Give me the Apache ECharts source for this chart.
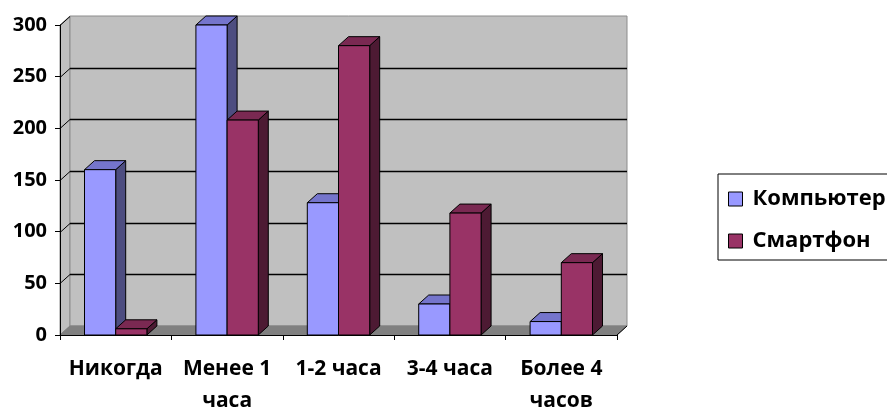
<!DOCTYPE html>
<html>
<head>
<meta charset="utf-8">
<script src="https://cdn.jsdelivr.net/npm/echarts@6/dist/echarts.min.js"></script>
<style>
html,body{margin:0;padding:0;background:#fff;}
#chart{width:887px;height:417px;}
</style>
</head>
<body>
<div id="chart"></div>
<script>
const categories = ['Никогда', 'Менее 1\nчаса', '1-2 часа', '3-4 часа', 'Более 4\nчасов'];
const seriesNames = ['Компьютер', 'Смартфон'];
const computerValues = [160, 300, 128, 30, 13];
const smartphoneValues = [6, 208, 280, 118, 70];
const yTicks = [0, 50, 100, 150, 200, 250, 300];

const DX = 10, DY = -9;
const FONT = '"Open Sans", "Noto Sans", "Liberation Sans", sans-serif';

const chart = echarts.init(document.getElementById('chart'), null, {renderer: 'canvas'});

function backdrop(params, api) {
  const cs = params.coordSys;
  const x = cs.x, y = cs.y, w = cs.width, h = cs.height;
  const children = [];
  children.push({type: 'polygon', shape: {points: [[x, y + h], [x, y], [x + DX, y + DY], [x + DX, y + h + DY]]},
    style: {fill: '#C0C0C0', stroke: '#8C8C8C', lineWidth: 1}});
  children.push({type: 'rect', shape: {x: x + DX, y: y + DY, width: w, height: h},
    style: {fill: '#C0C0C0', stroke: '#8C8C8C', lineWidth: 1}});
  children.push({type: 'polygon', shape: {points: [[x, y + h], [x + w, y + h], [x + w + DX, y + h + DY], [x + DX, y + h + DY]]},
    style: {fill: '#808080', stroke: '#808080', lineWidth: 1}});
  const maxT = yTicks[yTicks.length - 1];
  yTicks.forEach(function (t) {
    const py = Math.round(api.coord([0, t])[1]) + 0.5;
    if (t > 0 && t < maxT) {
      children.push({type: 'line', shape: {x1: x + DX, y1: py + DY, x2: x + w + DX, y2: py + DY},
        style: {stroke: '#000', lineWidth: 1.3}});
    }
    if (t > 0) {
      children.push({type: 'line', shape: {x1: x, y1: py, x2: x + DX, y2: py + DY},
        style: {stroke: '#000', lineWidth: 1}});
    }
  });
  children.push({type: 'line', shape: {x1: x + w, y1: y + h, x2: x + w + DX, y2: y + h + DY},
    style: {stroke: '#000', lineWidth: 1}});
  return {type: 'group', children: children};
}

function makeBar(side, front, topC, sideC) {
  return function (params, api) {
    const idx = api.value(0), val = api.value(1);
    const base = api.coord([idx, 0]);
    const top = api.coord([idx, val]);
    const band = api.size([1, 0])[0];
    const bw = band * 0.28;
    const x0 = side < 0 ? base[0] - bw : base[0];
    const x1 = x0 + bw;
    const yt = top[1], yb = base[1];
    const st = {stroke: '#000', lineWidth: 1, lineJoin: 'round'};
    return {
      type: 'group',
      children: [
        {type: 'polygon', shape: {points: [[x1, yt], [x1 + DX, yt + DY], [x1 + DX, yb + DY], [x1, yb]]},
          style: Object.assign({fill: sideC}, st)},
        {type: 'polygon', shape: {points: [[x0, yt], [x1, yt], [x1 + DX, yt + DY], [x0 + DX, yt + DY]]},
          style: Object.assign({fill: topC}, st)},
        {type: 'rect', shape: {x: x0, y: yt, width: bw, height: yb - yt},
          style: Object.assign({fill: front}, st)}
      ]
    };
  };
}

const option = {
  animation: false,
  backgroundColor: '#fff',
  grid: {left: 60, right: 270, top: 25, bottom: 75, containLabel: false},
  legend: {
    left: 718, top: 174, orient: 'vertical',
    padding: [14, 40, 8, 10],
    borderColor: '#000', borderWidth: 1,
    itemWidth: 14, itemHeight: 14, itemGap: 20,
    textStyle: {fontFamily: FONT, fontWeight: 'bold', fontSize: 22, lineHeight: 20, color: '#000', padding: [0, 0, 0, 5]},
    data: [
      {name: seriesNames[0], icon: 'rect', itemStyle: {color: '#9999FF', borderColor: '#000', borderWidth: 1}},
      {name: seriesNames[1], icon: 'rect', itemStyle: {color: '#993366', borderColor: '#000', borderWidth: 1}}
    ]
  },
  xAxis: {
    type: 'category', data: categories, boundaryGap: true, z: 5,
    axisLine: {lineStyle: {color: '#000', width: 1}},
    axisTick: {show: true, length: 5, lineStyle: {color: '#000'}},
    axisLabel: {fontFamily: FONT, fontWeight: 'bold', fontSize: 21, color: '#000', lineHeight: 32, margin: 18, interval: 0}
  },
  yAxis: {
    type: 'value', min: 0, max: 300, interval: 50, z: 5,
    axisLine: {show: true, lineStyle: {color: '#000', width: 1}},
    axisTick: {show: true, length: 5, lineStyle: {color: '#000'}},
    splitLine: {show: false},
    axisLabel: {fontFamily: FONT, fontWeight: 'bold', fontSize: 20, color: '#000', margin: 13}
  },
  series: [
    {type: 'custom', name: '_bg', silent: true, z: 1, renderItem: backdrop, data: [[0, 0]]},
    {type: 'custom', name: seriesNames[0], z: 2,
      itemStyle: {color: '#9999FF'},
      renderItem: makeBar(-1, '#9999FF', '#7575CC', '#4D4D80'),
      data: categories.map(function (c, i) { return [i, computerValues[i]]; })},
    {type: 'custom', name: seriesNames[1], z: 3,
      itemStyle: {color: '#993366'},
      renderItem: makeBar(1, '#993366', '#7A2952', '#4D1A33'),
      data: categories.map(function (c, i) { return [i, smartphoneValues[i]]; })}
  ]
};
chart.setOption(option);
</script>
</body>
</html>
